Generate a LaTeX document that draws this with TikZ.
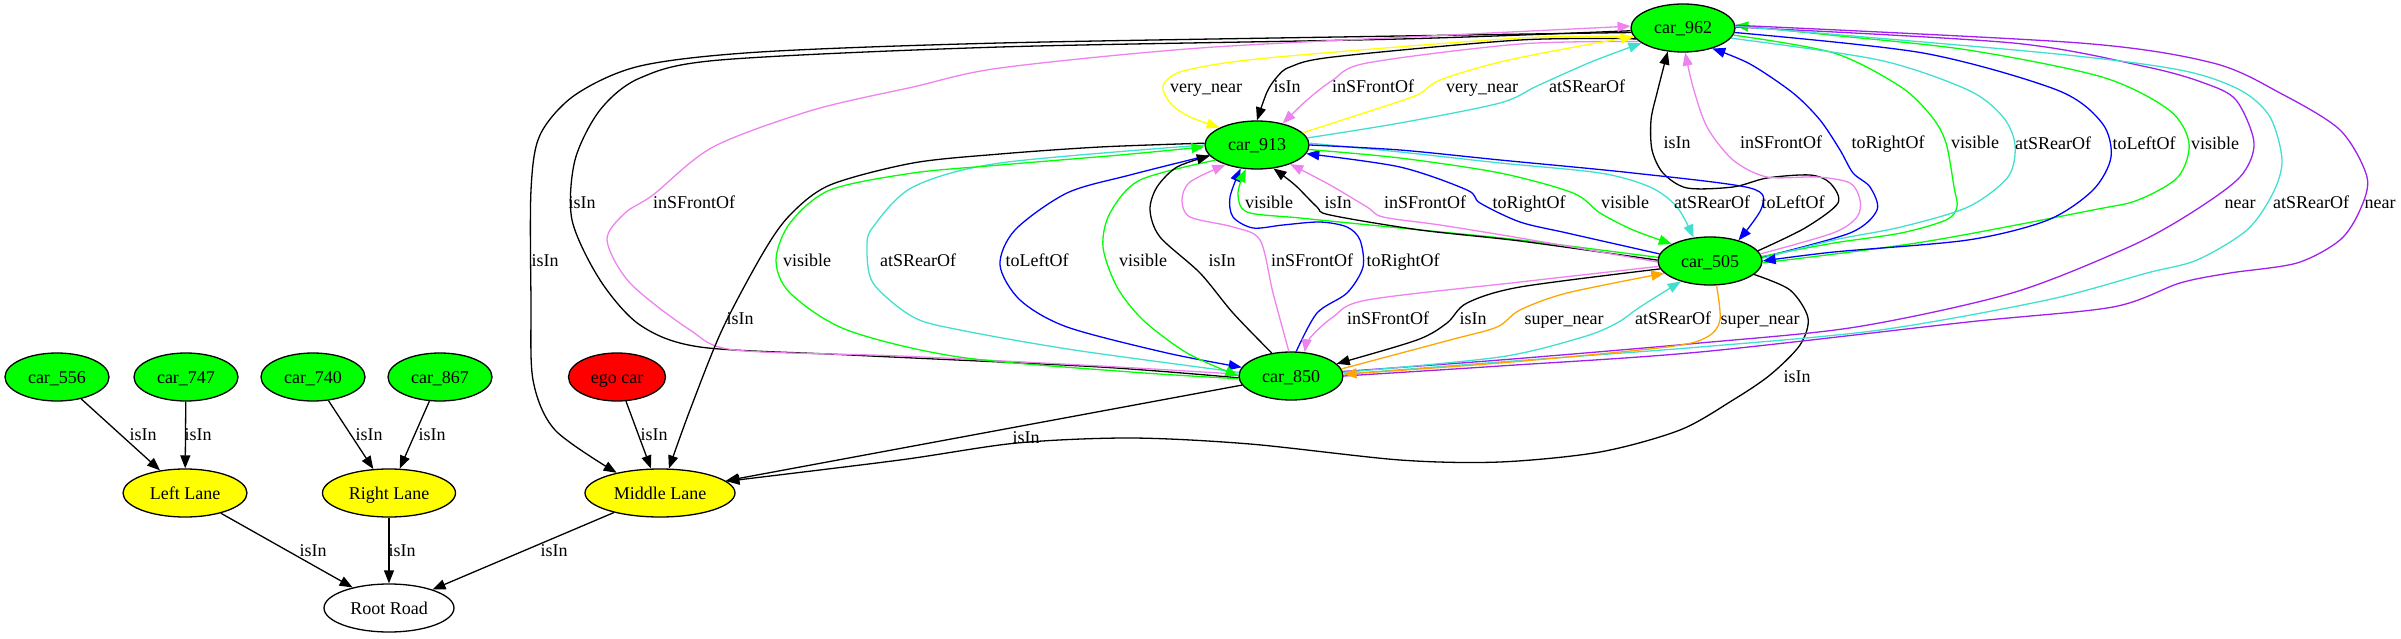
\documentclass[tikz,border=0pt]{standalone}
\usepackage{fontspec}
\setmainfont{Liberation Serif}
\usepackage{tikz}
\usetikzlibrary{arrows.meta,shapes.geometric}
\usepackage{xcolor}
\definecolor{relgreen}{RGB}{0,255,0}
\definecolor{relyellow}{RGB}{255,255,0}
\definecolor{relred}{RGB}{255,0,0}
\definecolor{relviolet}{RGB}{238,130,238}
\definecolor{relturq}{RGB}{64,224,208}
\definecolor{relblue}{RGB}{0,0,255}
\definecolor{relorange}{RGB}{255,165,0}
\definecolor{relpurple}{RGB}{160,32,240}
\newcommand{\gvfont}{\fontsize{18}{20}\selectfont}
\tikzset{
  car/.style={ellipse, draw, line width=1.3pt, fill=relgreen, minimum width=104pt,
    minimum height=48pt, inner sep=0pt, font=\gvfont, text height=12pt, text depth=0pt},
  lane/.style={car, fill=relyellow},
  rel/.style={line width=1.3pt, -{Triangle[length=13pt,width=10pt]}},
  relnh/.style={line width=1.3pt},
  lbl/.style={inner sep=0pt, font=\gvfont, text=black, text height=12pt, text depth=0pt},
}

\begin{document}
\begin{tikzpicture}[x=1pt,y=-1pt]
    \useasboundingbox (0,0) rectangle (2401,639);
    % Nodos
    \node[car] (c962) at (1683,28) {car\_962};
    \node[car] (c913) at (1257,145) {car\_913};
    \node[car] (c505) at (1710,261) {car\_505};
    \node[car] (c850) at (1291,376) {car\_850};
    \node[car] (c556) at (57,377) {car\_556};
    \node[car] (c747) at (186,377) {car\_747};
    \node[car] (c740) at (313,377) {car\_740};
    \node[car] (c867) at (440,377) {car\_867};
    \node[car, fill=relred, minimum width=97pt] (ego) at (617,377) {ego car};
    \node[lane, minimum width=124pt] (lleft) at (185,493) {Left Lane};
    \node[lane, minimum width=133pt] (lright) at (389,493) {Right Lane};
    \node[lane, minimum width=150pt] (lmid) at (660,493) {Middle Lane};
    \node[car, fill=white, minimum width=130pt] (road) at (389,608) {Root Road};

    % Carriles y carretera
    \draw[rel] (c556) -- (lleft) node[lbl, at={(143,434)}] {isIn};
    \draw[rel] (c747) -- (lleft) node[lbl, at={(198,434)}] {isIn};
    \draw[rel] (c740) -- (lright) node[lbl, at={(369,434)}] {isIn};
    \draw[rel] (c867) -- (lright) node[lbl, at={(432,434)}] {isIn};
    \draw[rel] (ego) -- (lmid) node[lbl, at={(654,434)}] {isIn};
    \draw[rel] (lleft) -- (road) node[lbl, at={(313,550)}] {isIn};
    \draw[rel] (lright) -- (road) node[lbl, at={(402,550)}] {isIn};
    \draw[rel] (lmid) -- (road) node[lbl, at={(554,550)}] {isIn};
    \draw[rel] (c850) -- (lmid) node[lbl, at={(1026,437)}] {isIn};

    % Aristas largas por la izquierda
    \draw[rel] plot[smooth] coordinates {(c962.185) (1400,36) (1000,43) (760,52) (640,66) (575,95) (540,135) (531,190) (531,300) (533,380) (555,430) (lmid.155)}
      node[lbl, at={(545,260)}] {isIn};
    \draw[relnh] plot[smooth] coordinates {(c850.182) (1100,367) (850,355) (700,347) (640,325) (600,280) (572,220) (575,160) (600,110) (640,78) (720,60) (1000,47) (1400,39) (c962.183)}
      node[lbl, at={(582,202)}] {isIn};
    \draw[rel, relviolet] plot[smooth] coordinates {(c850.178) (1100,366) (900,356) (735,350) (690,330) (630,283) (607,240) (625,213) (653,195) (713,147) (813,110) (913,87) (1000,68) (1200,48) (1450,35) (c962.178)}
      node[lbl, at={(694,202)}] {inSFrontOf};
    \draw[rel] plot[smooth] coordinates {(c913.178) (1100,147) (1000,154) (913,163) (830,185) (790,215) (763,253) (722,330) (690,410) (lmid.70)}
      node[lbl, at={(740,318)}] {isIn};
    \draw[rel] plot[smooth] coordinates {(c505.343) (1790,290) (1808,318) (1800,345) (1770,375) (1733,400) (1680,430) (1600,452) (1500,462) (1400,460) (1250,444) (1131,438) (1017,443) (900,460) (lmid.10)}
      node[lbl, at={(1797,376)}] {isIn};

    % car_962 <-> car_913
    \draw[rel, relyellow] plot[smooth] coordinates {(c962.190) (1520,38) (1267,58) (1187,70) (1167,80) (1163,90) (1172,105) (1190,117) (c913.155)}
      node[lbl, at={(1206,87)}] {very\_near};
    \draw[rel] plot[smooth] coordinates {(c962.193) (1520,40) (1333,57) (1290,67) (1277,77) (1267,92) (c913.90)}
      node[lbl, at={(1287,87)}] {isIn};
    \draw[rel, relviolet] plot[smooth] coordinates {(c962.197) (1520,44) (1367,63) (1333,80) (1307,100) (c913.40)}
      node[lbl, at={(1373,87)}] {inSFrontOf};
    \draw[rel, relyellow] plot[smooth] coordinates {(c913.15) (1367,112) (1417,95) (1440,80) (1500,62) (1580,46) (c962.190)}
      node[lbl, at={(1482,87)}] {very\_near};
    \draw[rel, relturq] plot[smooth] coordinates {(c913.8) (1400,123) (1500,103) (1537,86) (1591,62) (c962.200)}
      node[lbl, at={(1587,87)}] {atSRearOf};

    % car_505 <-> car_962
    \draw[rel] plot[smooth] coordinates {(c505.12) (1805,228) (1838,203) (1830,183) (1810,175) (1767,178) (1733,187) (1687,188) (1663,173) (1652,150) (1651,120) (1657,93) (c962.237)}
      node[lbl, at={(1677,143)}] {isIn};
    \draw[rel, relviolet] plot[smooth] coordinates {(c505.8) (1833,233) (1857,217) (1860,200) (1850,183) (1817,177) (1767,177) (1733,160) (1707,127) (1693,87) (c962.275)}
      node[lbl, at={(1781,143)}] {inSFrontOf};
    \draw[rel, relblue] plot[smooth] coordinates {(c505.4) (1850,233) (1877,210) (1870,187) (1853,173) (1840,150) (1820,120) (1793,93) (1750,64) (c962.325)}
      node[lbl, at={(1888,143)}] {toRightOf};
    \draw[relnh, relgreen] plot[smooth] coordinates {(c962.352) (1834,53) (1901,87) (1932,117) (1946,143) (1954,187) (1957,207) (1946,220) (1901,233) (1834,243) (c505.5)}
      node[lbl, at={(1975,143)}] {visible};
    \draw[relnh, relturq] plot[smooth] coordinates {(c962.348) (1879,60) (1968,90) (2003,117) (2015,145) (2008,177) (1968,207) (1901,227) (1834,240) (c505.3)}
      node[lbl, at={(2053,144)}] {atSRearOf};
    \draw[rel, relgreen] plot[smooth] coordinates {(c505.358) (1923,242) (2093,210) (2138,200) (2178,177) (2189,143) (2169,110) (2102,77) (1968,50) (1830,35) (c962.3)}
      node[lbl, at={(2215,144)}] {visible};
    \draw[rel, relblue] plot[smooth] coordinates {(c962.355) (1923,53) (2057,90) (2102,123) (2111,157) (2093,190) (2048,220) (1968,240) (1834,252) (c505.0)}
      node[lbl, at={(2144,144)}] {toLeftOf};

    % car_962 <-> car_850 por la derecha
    \draw[relnh, relpurple] plot[smooth] coordinates {(c962.1) (2013,43) (2147,67) (2204,83) (2236,100) (2254,143) (2240,177) (2191,213) (2129,247) (2012,293) (1856,327) (1700,343) (1500,360) (c850.5)}
      node[lbl, at={(2240,203)}] {near};
    \draw[relnh, relturq] plot[smooth] coordinates {(c962.2) (2047,53) (2180,70) (2240,90) (2270,117) (2282,160) (2273,193) (2247,230) (2197,260) (2147,273) (2047,300) (1880,330) (1700,347) (1500,362) (c850.2)}
      node[lbl, at={(2311,203)}] {atSRearOf};
    \draw[relnh, relpurple] plot[smooth] coordinates {(c962.3) (2080,43) (2213,63) (2280,93) (2340,130) (2367,177) (2360,210) (2340,240) (2297,263) (2230,273) (2180,283) (2113,307) (1968,322) (1700,352) (1500,366) (c850.0)}
      node[lbl, at={(2380,203)}] {near};

    % car_913 <-> car_850
    \draw[relnh, relturq] plot[smooth] coordinates {(c913.180) (1000,163) (913,187) (873,227) (867,247) (873,283) (913,317) (960,330) (1074,350) (c850.176)}
      node[lbl, at={(918,260)}] {atSRearOf};
    \draw[rel, relgreen] plot[smooth] coordinates {(c850.183) (1131,372) (959,357) (847,330) (790,293) (776,260) (790,223) (830,190) (913,173) (1000,165) (1120,155) (c913.182)}
      node[lbl, at={(807,260)}] {visible};
    \draw[rel, relblue] plot[smooth] coordinates {(c913.192) (1130,175) (1067,193) (1015,230) (1000,265) (1020,300) (1067,327) (1167,353) (c850.170)}
      node[lbl, at={(1037,260)}] {toLeftOf};
    \draw[rel, relgreen] plot[smooth] coordinates {(c913.200) (1140,180) (1110,213) (1103,247) (1117,287) (1143,320) (1187,353) (c850.180)}
      node[lbl, at={(1143,260)}] {visible};
    \draw[rel] plot[smooth] coordinates {(c850.130) (1233,313) (1200,273) (1160,237) (1150,210) (1157,187) (1177,167) (c913.193)}
      node[lbl, at={(1222,260)}] {isIn};
    \draw[rel, relviolet] plot[smooth] coordinates {(c850.95) (1273,293) (1260,240) (1233,227) (1190,217) (1182,200) (1190,182) (c913.212)}
      node[lbl, at={(1312,260)}] {inSFrontOf};
    \draw[rel, relblue] plot[smooth] coordinates {(c850.78) (1317,313) (1347,293) (1363,267) (1360,240) (1347,227) (1320,222) (1283,225) (1253,228) (1233,217) (1230,197) (c913.235)}
      node[lbl, at={(1403,260)}] {toRightOf};

    % car_505 <-> car_913
    \draw[rel, relgreen] plot[smooth] coordinates {(c505.176) (1520,240) (1400,228) (1300,218) (1247,212) (1238,193) (c913.245)}
      node[lbl, at={(1269,203)}] {visible};
    \draw[rel] plot[smooth] coordinates {(c505.179) (1520,241) (1420,230) (1330,215) (1317,207) (1295,185) (c913.305)}
      node[lbl, at={(1338,203)}] {isIn};
    \draw[rel, relviolet] plot[smooth] coordinates {(c505.181) (1520,238) (1440,225) (1383,217) (1367,207) (1330,185) (c913.330)}
      node[lbl, at={(1425,203)}] {inSFrontOf};
    \draw[rel, relblue] plot[smooth] coordinates {(c505.172) (1567,233) (1520,222) (1480,203) (1467,190) (1400,167) (c913.350)}
      node[lbl, at={(1529,203)}] {toRightOf};
    \draw[rel, relgreen] plot[smooth] coordinates {(c913.355) (1400,158) (1500,173) (1573,193) (1600,213) (1633,230) (c505.156)}
      node[lbl, at={(1625,203)}] {visible};
    \draw[rel, relturq] plot[smooth] coordinates {(c913.2) (1400,152) (1500,163) (1600,173) (1650,187) (1677,207) (c505.125)}
      node[lbl, at={(1712,203)}] {atSRearOf};
    \draw[rel, relblue] plot[smooth] coordinates {(c913.0) (1400,150) (1500,160) (1633,173) (1750,188) (1762,207) (c505.36)}
      node[lbl, at={(1793,203)}] {toLeftOf};

    % car_505 <-> car_850
    \draw[rel, relviolet] plot[smooth] coordinates {(c505.186) (1520,282) (1367,300) (1333,317) (1310,338) (c850.60)}
      node[lbl, at={(1388,318)}] {inSFrontOf};
    \draw[rel] plot[smooth] coordinates {(c505.189) (1520,287) (1467,303) (1447,323) (1417,340) (c850.15)}
      node[lbl, at={(1473,318)}] {isIn};
    \draw[rel, relturq] plot[smooth] coordinates {(c850.4) (1500,357) (1583,337) (1617,323) (1640,307) (c505.215)}
      node[lbl, at={(1673,318)}] {atSRearOf};
    \draw[rel, relorange] plot[smooth] coordinates {(c850.8) (1450,340) (1497,327) (1520,310) (1567,293) (c505.195)}
      node[lbl, at={(1564,318)}] {super\_near};
    \draw[rel, relorange] plot[smooth] coordinates {(c505.285) (1720,320) (1707,337) (1667,347) (1500,363) (c850.2)}
      node[lbl, at={(1760,318)}] {super\_near};
\end{tikzpicture}
\end{document}
